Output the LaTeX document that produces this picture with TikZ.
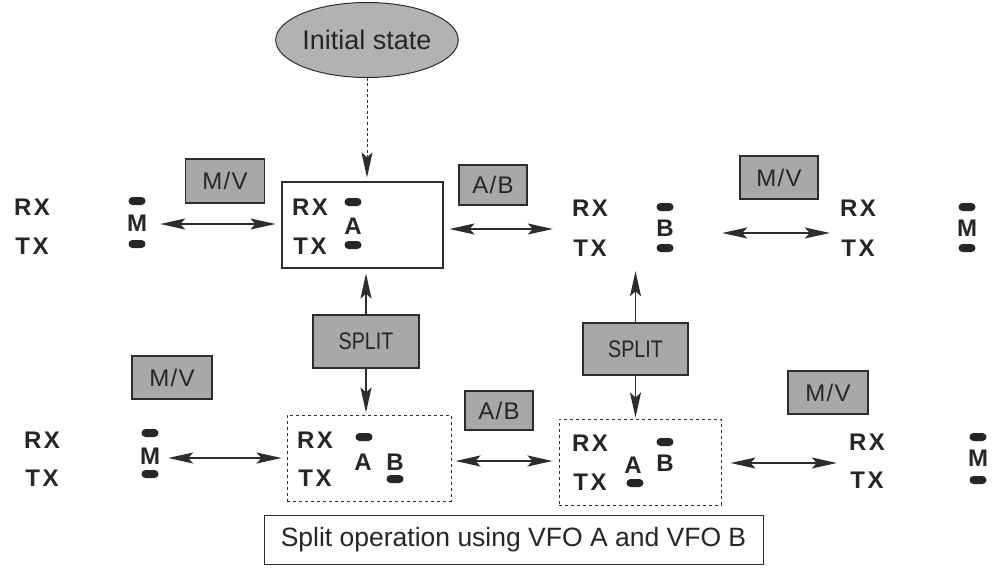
\documentclass[tikz,border=0pt]{standalone}
\usepackage{fontspec}
\setmainfont{Liberation Sans}
\newfontfamily\din[LetterSpace=10]{Liberation Sans}
\newfontfamily\keyfont[FakeStretch=0.82]{Liberation Sans}
\newfontfamily\mvfont[LetterSpace=5]{Liberation Sans}
\usetikzlibrary{arrows.meta,shapes.geometric}
\definecolor{keygray}{RGB}{168,168,168}
\definecolor{ellgray}{RGB}{178,178,178}
\definecolor{linegray}{RGB}{45,45,45}
\tikzset{
  lbl/.style={inner sep=0pt, font=\din\bfseries\fontsize{24}{24}\selectfont, text=black!85},
  pill/.style={fill=black!85, rectangle, rounded corners=4pt, minimum width=17pt, minimum height=8pt, inner sep=0pt},
  keybox/.style={draw=linegray, line width=1.5pt, fill=keygray, inner sep=0pt, font=\keyfont\fontsize{24}{24}\selectfont, text=black!85},
  mvbox/.style={keybox, font=\mvfont\fontsize{24}{24}\selectfont},
  grp/.style={draw=none, inner sep=0pt, minimum height=86pt},
  solidbox/.style={draw=linegray, line width=1.1pt, inner sep=0pt, minimum height=86pt},
  dashbox/.style={draw=linegray, line width=1pt, dash pattern=on 3pt off 3pt, inner sep=0pt, minimum height=86pt},
  tip/.tip={Stealth[length=25pt,width=11pt,inset=5pt]},
  dbl/.style={line width=1.8pt, draw=linegray, tip-tip},
  one/.style={line width=1.8pt, draw=linegray, -tip},
  dashone/.style={line width=1pt, draw=linegray, dash pattern=on 3pt off 2.5pt, -{Stealth[length=25pt,width=11pt,inset=5pt]}}
}
\begin{document}
\begin{tikzpicture}[x=1pt,y=-1pt]
\useasboundingbox[fill=white] (0,0) rectangle (992,567);

% initial state
\node[ellipse, draw=linegray, line width=1pt, fill=ellgray, minimum width=170pt, minimum height=75pt, inner sep=0pt, font=\fontsize{27}{27}\selectfont, text=black!85] (init) at (367,40) {Initial state};

% group frames
\node[grp, minimum width=150pt] (gTL) at (79,224) {};
\node[solidbox, minimum width=161pt] (boxA) at (362.5,225) {};
\node[grp, minimum width=157pt] (gTB) at (637.5,228) {};
\node[grp, minimum width=128pt] (gTR) at (900,231) {};
\node[grp, minimum width=154pt] (gBL) at (85,458) {};
\node[dashbox, minimum width=164pt] (boxAB1) at (369,458) {};
\node[dashbox, minimum width=162pt] (boxAB2) at (640,462) {};
\node[grp, minimum width=134pt] (gBR) at (910,463) {};

% top-left group
\node[lbl] (rxTL) at (32,207) {RX};
\node[lbl] (txTL) at (32,246) {TX};
\node[pill] (p1TL) at (137,201) {};
\node[pill] (p2TL) at (137,244) {};
\node[lbl] (mTL) at (137,223) {M};

% box A
\node[lbl] (rxA) at (310,207) {RX};
\node[lbl] (txA) at (310,246) {TX};
\node[pill] (p1A) at (353,202) {};
\node[pill] (p2A) at (353,245) {};
\node[lbl] (aA) at (353,226) {A};

% top B group
\node[lbl] (rxTB) at (590,208) {RX};
\node[lbl] (txTB) at (590,248) {TX};
\node[pill] (p1TB) at (665,207) {};
\node[pill] (p2TB) at (665,248) {};
\node[lbl] (bTB) at (665,228) {B};

% top-right group
\node[lbl] (rxTR) at (858,208) {RX};
\node[lbl] (txTR) at (858,248) {TX};
\node[pill] (p1TR) at (967,207) {};
\node[pill] (p2TR) at (967,248) {};
\node[lbl] (mTR) at (967,228) {M};

% bottom-left group
\node[lbl] (rxBL) at (42,440) {RX};
\node[lbl] (txBL) at (42,478) {TX};
\node[pill] (p1BL) at (150,433) {};
\node[pill] (p2BL) at (150,474) {};
\node[lbl] (mBL) at (150,456) {M};

% split box 1
\node[lbl] (rxS1) at (315,440) {RX};
\node[lbl] (txS1) at (315,478) {TX};
\node[pill] (pAS1) at (364,437) {};
\node[lbl] (aS1) at (363,462) {A};
\node[lbl] (bS1) at (395,462) {B};
\node[pill] (pBS1) at (395,479) {};

% split box 2
\node[lbl] (rxS2) at (590,443) {RX};
\node[lbl] (txS2) at (590,482) {TX};
\node[pill] (pBS2) at (665,442) {};
\node[lbl] (bS2) at (665,463) {B};
\node[lbl] (aS2) at (633,465) {A};
\node[pill] (pAS2) at (635,483) {};

% bottom-right group
\node[lbl] (rxBR) at (867,442) {RX};
\node[lbl] (txBR) at (867,480) {TX};
\node[pill] (p1BR) at (978,437) {};
\node[pill] (p2BR) at (978,480) {};
\node[lbl] (mBR) at (978,458) {M};

% key boxes
\node[mvbox, minimum width=79pt, minimum height=44pt] (mvTL) at (225,181) {M/V};
\node[mvbox, minimum width=68pt, minimum height=40pt] (abT) at (493,185) {A/B};
\node[mvbox, minimum width=78pt, minimum height=43pt] (mvTR) at (779,177.5) {M/V};
\node[keybox, minimum width=106pt, minimum height=53pt] (splitL) at (366,341.5) {SPLIT};
\node[keybox, minimum width=105pt, minimum height=52pt] (splitR) at (635.5,349) {SPLIT};
\node[mvbox, minimum width=80pt, minimum height=43pt] (mvBL) at (172,377.5) {M/V};
\node[mvbox, minimum width=68pt, minimum height=39pt] (abB) at (499,410.5) {A/B};
\node[mvbox, minimum width=80pt, minimum height=43pt] (mvBR) at (828,392.5) {M/V};

% caption
\node[draw=linegray, line width=1pt, minimum width=499pt, minimum height=49pt, inner sep=0pt, font=\fontsize{26.5}{26.5}\selectfont, text=black!85] (cap) at (513.5,539.5) {Split operation using VFO A and VFO B};

% connectors
\draw[dashone, shorten >=4pt] (init) -- (init |- boxA.north);
\draw[dbl, shorten <=6pt, shorten >=6pt] (gTL.east) -- (gTL.east -| boxA.west);
\draw[dbl, shorten <=6pt, shorten >=6pt] ([yshift=-4pt]boxA.east) -- ([yshift=-4pt]boxA.east -| gTB.west);
\draw[dbl, shorten <=6pt, shorten >=6pt] ([yshift=-5pt]gTB.east) -- ([yshift=-5pt]gTB.east -| gTR.west);
\draw[one, shorten >=5pt] (splitL) -- (splitL |- boxA.south);
\draw[one, shorten >=2pt] (splitL) -- (splitL |- boxAB1.north);
\draw[one] (splitR) -- (splitR |- gTB.south);
\draw[one, shorten >=1pt] (splitR) -- (splitR |- boxAB2.north);
\draw[dbl, shorten <=6pt, shorten >=5pt] (gBL.east) -- (gBL.east -| boxAB1.west);
\draw[dbl, shorten <=4pt, shorten >=6pt] ([yshift=-3pt]boxAB1.east) -- ([yshift=-3pt]boxAB1.east -| boxAB2.west);
\draw[dbl, shorten <=9pt, shorten >=6pt] ([yshift=-1pt]boxAB2.east) -- ([yshift=-1pt]boxAB2.east -| gBR.west);
\end{tikzpicture}
\end{document}
